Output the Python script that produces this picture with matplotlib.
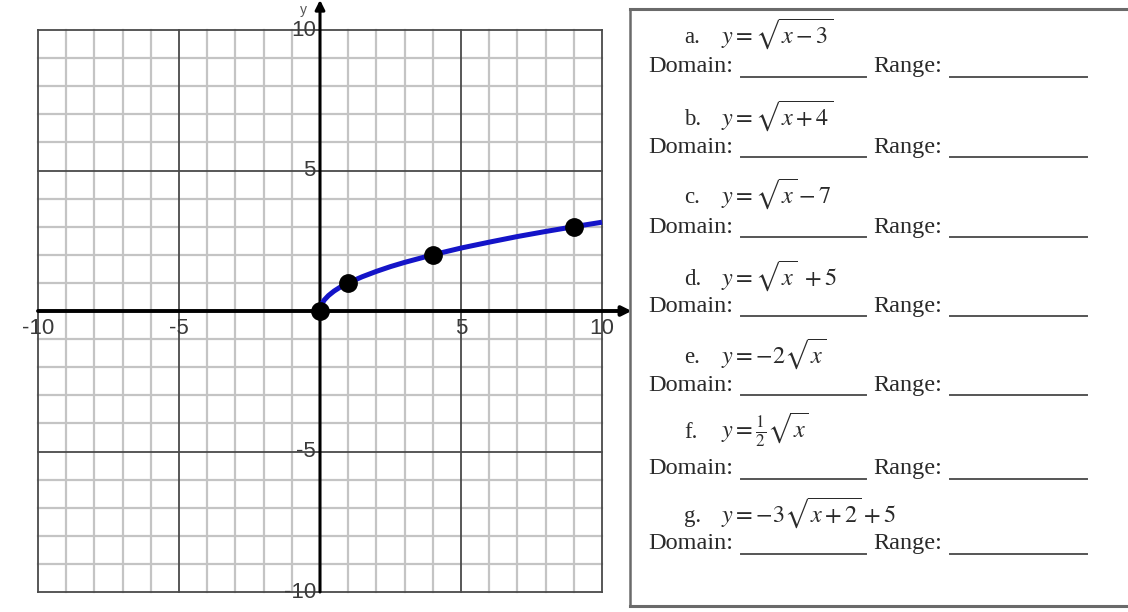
import matplotlib.pyplot as plt
import numpy as np

plt.rcParams["mathtext.fontset"] = "stix"

# curve y = sqrt(x)
curve_x = [0, 0.05, 0.15, 0.3, 0.5, 0.75, 1, 1.5, 2, 2.5, 3, 4, 5, 6, 7, 8, 9, 10]
curve_y = [0, 0.22, 0.39, 0.55, 0.71, 0.87, 1, 1.22, 1.41, 1.58, 1.73, 2,
           2.24, 2.45, 2.65, 2.83, 3, 3.16]

# plotted points
point_x = [0, 1, 4, 9]
point_y = [0, 1, 2, 3]

tick_values = [-10, -5, 5, 10]

# worksheet items
item_letters = ["a.", "b.", "c.", "d.", "e.", "f.", "g."]
item_equations = [
    r"$y = \sqrt{x - 3}$",
    r"$y = \sqrt{x + 4}$",
    r"$y = \sqrt{x} - 7$",
    r"$y = \sqrt{x}\ + 5$",
    r"$y = -2\sqrt{x}$",
    r"$y = \frac{1}{2}\sqrt{x}$",
    r"$y = -3\sqrt{x + 2} + 5$",
]

fig = plt.figure(figsize=(11.28, 6.12), dpi=100)

# ---- coordinate grid (left) ----
ax = fig.add_axes([0, 0, 640 / 1128, 1])
ax.set_xlim(-320 / 28.2, 320 / 28.2)
ax.set_ylim((311 - 612) / 28.1, 311 / 28.1)
ax.axis("off")

for v in range(-10, 11):
    if v % 5 == 0:
        col, lw, z = "#4a4a4a", 1.3, 2
    else:
        col, lw, z = "#c4c4c4", 1.6, 1
    ax.plot([v, v], [-10, 10], color=col, linewidth=lw, zorder=z)
    ax.plot([-10, 10], [v, v], color=col, linewidth=lw, zorder=z)

# axes with arrows
ax.annotate("", xy=(11.05, 0), xytext=(-10, 0),
            arrowprops=dict(arrowstyle="-|>", lw=2.8, color="black",
                            mutation_scale=14, shrinkA=0, shrinkB=0),
            zorder=3)
ax.annotate("", xy=(0, 11.07), xytext=(0, -10),
            arrowprops=dict(arrowstyle="-|>", lw=2.2, color="black",
                            mutation_scale=14, shrinkA=0, shrinkB=0),
            zorder=3)
ax.text(-0.6, 10.95, "y", fontsize=10, color="#555", ha="center", va="top",
        family="Liberation Sans")

for t in tick_values:
    ax.text(t, -0.64, str(t), fontsize=16, color="#3a3a3a", ha="center",
            va="center", family="Liberation Sans", zorder=4)
    ax.text(-0.15, t, str(t), fontsize=16, color="#3a3a3a", ha="right",
            va="center", family="Liberation Sans", zorder=4)

ax.plot(curve_x, curve_y, color="#1414c8", linewidth=3.6,
        solid_capstyle="butt", zorder=5)
ax.plot(point_x, point_y, "o", color="black", markersize=12.5, zorder=6)

# ---- worksheet box (right) ----
tx = fig.add_axes([0, 0, 1, 1])
tx.set_xlim(0, 1128)
tx.set_ylim(612, 0)
tx.axis("off")
tx.patch.set_alpha(0)

tx.plot([630, 1128], [9, 9], color="#6a6a6a", linewidth=2.2)
tx.plot([630, 1128], [606, 606], color="#6a6a6a", linewidth=2.2)
tx.plot([630, 630], [9, 606], color="#6a6a6a", linewidth=1.8)

eq_base = [43, 125, 203, 285, 363, 438, 522]
dom_base = [72, 153, 233, 312, 391, 474, 549]
line_y = [77, 157, 237, 316, 395, 479, 554]

for i in range(len(item_letters)):
    tx.text(684, eq_base[i], item_letters[i], fontsize=16.5, color="#2a2a2a",
            family="Liberation Serif", va="baseline")
    tx.text(721, eq_base[i], item_equations[i], fontsize=17.5, color="#2a2a2a",
            va="baseline")
    tx.text(648, dom_base[i], "Domain:", fontsize=17.5, color="#2a2a2a",
            family="Liberation Serif", va="baseline")
    tx.text(873, dom_base[i], "Range:", fontsize=17.5, color="#2a2a2a",
            family="Liberation Serif", va="baseline")
    tx.plot([741, 866], [line_y[i], line_y[i]], color="#555", linewidth=1.4)
    tx.plot([950, 1087], [line_y[i], line_y[i]], color="#555", linewidth=1.4)

fig.savefig("out.png", dpi=100)
